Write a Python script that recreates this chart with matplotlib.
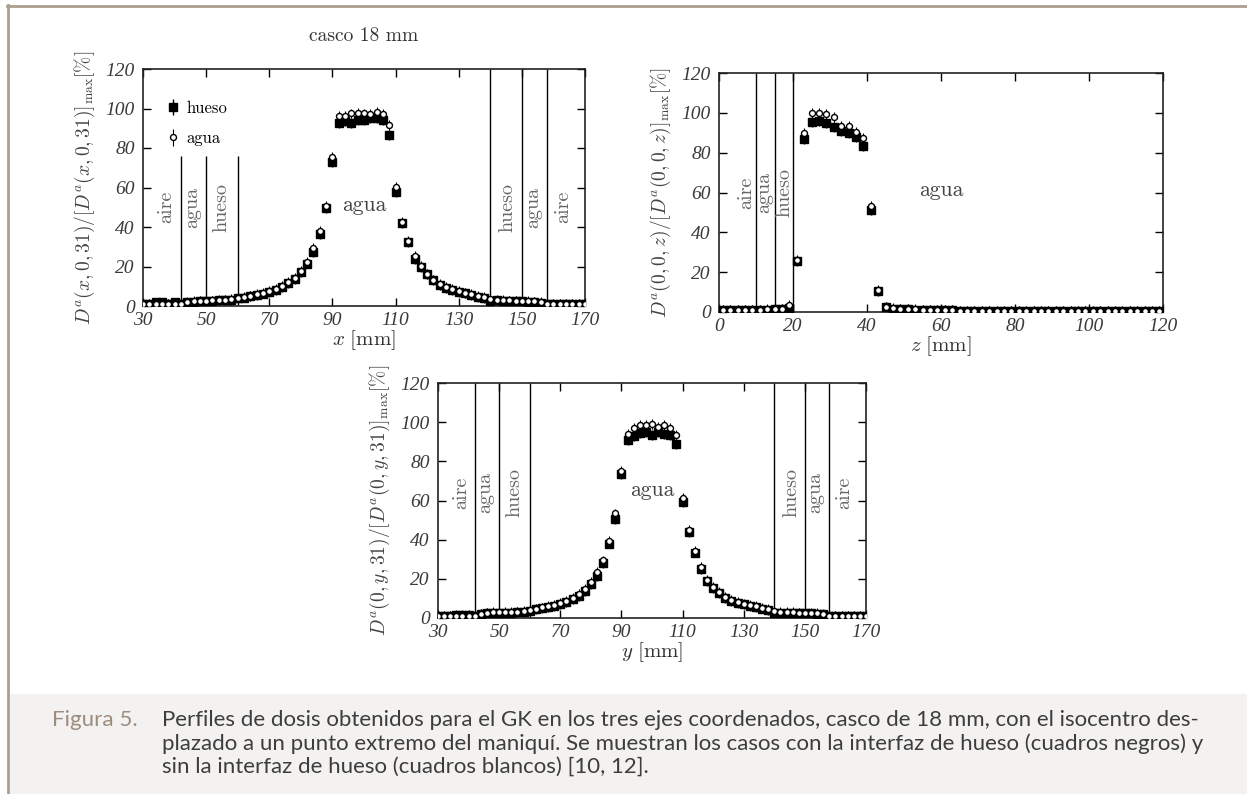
import numpy as np
import matplotlib
matplotlib.use('Agg')
import matplotlib.pyplot as plt
from matplotlib.patches import Rectangle
from matplotlib.lines import Line2D

plt.rcParams['mathtext.fontset'] = 'cm'
plt.rcParams['axes.unicode_minus'] = False

# ---- datos ----
pos_xy = np.arange(30, 171, 2)          # x, y [mm]
pos_z = np.arange(1, 120, 2)            # z [mm]

x_hueso = [1.0, 1.2, 1.8, 1.8, 1.2, 1.8, 1.0, 1.8, 2.2, 2.4,
           2.4, 2.6, 2.8, 3.0, 3.2, 3.8, 4.3, 5.0, 5.6, 6.3,
           7.2, 8.3, 9.8, 11.5, 13.5, 17.0, 21.5, 27.5, 36.3, 49.5,
           72.8, 92.5, 93.5, 92.5, 94.0, 94.0, 95.0, 95.0, 94.0, 86.8,
           57.8, 42.0, 32.5, 24.0, 19.8, 16.0, 13.0, 10.8, 9.2, 8.2,
           7.2, 6.4, 5.7, 4.6, 3.8, 2.6, 2.8, 2.6, 2.5, 2.4,
           2.3, 2.2, 2.0, 1.6, 1.0, 0.9, 0.9, 0.9, 0.8, 0.8, 1.2]
x_agua = [1.0, 1.0, 1.2, 1.2, 1.0, 1.0, 1.2, 2.0, 2.5, 2.7,
          2.6, 2.8, 3.0, 3.2, 3.5, 4.0, 4.6, 5.2, 5.9, 6.6,
          7.6, 8.7, 10.2, 12.0, 14.2, 17.8, 22.2, 29.2, 38.1, 50.8,
          75.5, 96.0, 96.2, 97.5, 97.6, 97.5, 97.3, 98.2, 97.0, 91.8,
          60.4, 42.6, 33.0, 25.2, 20.2, 16.4, 13.4, 11.2, 9.6, 8.5,
          7.5, 6.7, 6.0, 5.2, 4.6, 3.6, 3.2, 3.0, 2.8, 2.7,
          2.6, 2.5, 2.3, 1.9, 0.9, 0.8, 0.8, 0.8, 0.8, 0.8, 0.8]

y_hueso = [1.0, 1.0, 1.0, 1.6, 1.6, 1.4, 1.0, 2.0, 2.4, 2.6,
           2.6, 2.6, 2.8, 3.0, 3.2, 3.8, 4.4, 5.0, 5.6, 6.3,
           7.2, 8.2, 9.6, 11.4, 13.8, 17.4, 21.4, 28.0, 38.0, 50.6,
           73.5, 90.8, 93.0, 94.5, 95.0, 93.5, 95.0, 94.0, 93.5, 89.0,
           59.0, 43.8, 33.4, 25.1, 18.8, 15.2, 12.6, 10.3, 8.8, 7.8,
           6.9, 6.2, 5.6, 4.8, 4.0, 2.5, 2.6, 2.6, 2.5, 2.4,
           2.3, 2.3, 2.1, 1.8, 1.0, 1.0, 1.0, 1.0, 1.0, 1.0, 1.0]
y_agua = [1.0, 1.0, 1.0, 1.0, 1.0, 1.0, 1.2, 2.2, 2.8, 3.0,
          3.0, 2.9, 3.1, 3.3, 3.6, 4.2, 4.8, 5.4, 6.0, 6.8,
          7.7, 8.8, 10.2, 12.2, 14.8, 18.2, 23.3, 29.4, 39.2, 53.4,
          75.0, 94.2, 97.0, 98.5, 98.6, 99.0, 97.6, 98.6, 97.0, 93.4,
          61.1, 44.8, 34.4, 25.9, 19.5, 15.8, 13.2, 10.9, 9.3, 8.3,
          7.4, 6.7, 6.0, 5.3, 4.6, 3.6, 3.2, 3.0, 2.9, 2.8,
          2.7, 2.6, 2.4, 2.0, 1.0, 1.0, 1.0, 1.0, 1.0, 1.0, 1.0]

z_hueso = [1.0, 1.0, 1.0, 1.0, 1.0, 1.2, 1.2, 1.6, 1.6, 2.0,
           25.8, 86.7, 95.5, 95.8, 95.0, 93.0, 91.0, 90.0, 88.0, 83.2,
           51.2, 10.7, 2.4, 1.6, 1.4, 1.3, 1.2, 1.1, 1.0, 1.0,
           1.0, 0.9, 0.6, 0.6, 0.6, 0.6, 0.6, 0.6, 0.6, 0.6,
           0.6, 0.6, 0.6, 0.6, 0.6, 0.6, 0.6, 0.6, 0.6, 0.6,
           0.6, 0.6, 0.6, 0.6, 0.6, 0.6, 0.6, 0.6, 0.6, 0.6]
z_agua = [1.2, 1.2, 1.2, 1.2, 1.2, 1.2, 1.3, 1.4, 1.5, 3.5,
          26.0, 90.0, 100.0, 99.8, 99.5, 98.0, 93.5, 93.5, 90.5, 87.2,
          53.2, 11.0, 2.6, 1.8, 1.5, 1.4, 1.3, 1.2, 1.1, 1.0,
          1.0, 0.9, 0.6, 0.6, 0.6, 0.6, 0.6, 0.6, 0.6, 0.6,
          0.6, 0.6, 0.6, 0.6, 0.6, 0.6, 0.6, 0.6, 0.6, 0.6,
          0.6, 0.6, 0.6, 0.6, 0.6, 0.6, 0.6, 0.6, 0.6, 0.6]

err = 2.5

# interfaces de los materiales
bounds_xy = [42, 50, 60, 140, 150, 158]
tops_x = [76, 76, 76, 120, 120, 120]
tops_y = [120, 120, 120, 120, 120, 120]
bounds_z = [10, 15, 20]
tops_z = [120, 120, 120]

names_xy = ['aire', 'agua', 'hueso', 'hueso', 'agua', 'aire']
names_z = ['aire', 'agua', 'hueso']
lab_xy = [37.5, 45.5, 55, 145.5, 153.5, 163]
lab_z = [7.5, 12.3, 17.8]

caption = ["Perfiles de dosis obtenidos para el GK en los tres ejes coordenados, casco de 18 mm, con el isocentro des-",
           "plazado a un punto extremo del maniquí. Se muestran los casos con la interfaz de hueso (cuadros negros) y",
           "sin la interfaz de hueso (cuadros blancos) [10, 12]."]

W, H = 1247, 794
fig = plt.figure(figsize=(W / 100, H / 100), dpi=100)


def setup(ax, xlim, xticks, xlabel, ylabel):
    ax.set_xlim(*xlim)
    ax.set_ylim(0, 120)
    ax.set_xticks(xticks)
    ax.set_yticks(np.arange(0, 121, 20))
    ax.tick_params(direction='in', top=True, right=True, length=6, width=1,
                   labelsize=14, labelcolor='#3a3a3a')
    ax.tick_params(axis='x', pad=4)
    ax.tick_params(axis='y', pad=6)
    for lab in ax.get_xticklabels() + ax.get_yticklabels():
        lab.set_fontfamily('Liberation Serif')
        lab.set_fontstyle('italic')
    for s in ax.spines.values():
        s.set_linewidth(1.2)
        s.set_color('#222')
    ax.set_xlabel(xlabel, fontsize=15, color='#333', labelpad=0)
    ax.set_ylabel(ylabel, fontsize=14, color='#444', labelpad=6)


def profile(ax, pos, hueso, agua):
    eh = ax.errorbar(pos, hueso, yerr=err, fmt='s', ms=5.3, color='black',
                     elinewidth=1, capsize=0, zorder=3, label='hueso')
    ea = ax.errorbar(pos, agua, yerr=err, fmt='o', ms=4.3, mfc='white', mec='black',
                     mew=1.0, ecolor='black', elinewidth=0.8, capsize=0, zorder=4,
                     label='agua')
    return eh, ea


def regions(ax, bounds, tops, names, labx, laby):
    ax.vlines(bounds, 0, tops, colors='black', lw=1, zorder=2)
    for n, xx in zip(names, labx):
        ax.text(xx, laby, n, rotation=90, ha='center', va='center',
                family='cmr10', fontsize=14.5, color='#666')


# ---- perfil en x ----
ax1 = fig.add_axes([143 / W, 1 - 306 / H, 442 / W, 237 / H])
regions(ax1, bounds_xy, tops_x, names_xy, lab_xy, 50)
eh, ea = profile(ax1, pos_xy, x_hueso, x_agua)
ax1.text(100, 51, 'agua', ha='center', va='center', family='cmr10', fontsize=15.5, color='#444')
setup(ax1, (30, 170), np.arange(30, 171, 20), r'$x\ [\mathrm{mm}]$',
      r'$D^a(x,0,31)/[D^a(x,0,31)]_{\max}[\%]$')
ax1.set_title('casco 18 mm', family='cmr10', fontsize=14, color='#333', pad=20)
ax1.legend(handles=[eh, ea], loc='upper left', bbox_to_anchor=(0.02, 0.93),
           frameon=False, handlelength=0.7, handletextpad=0.5, labelspacing=0.9,
           prop={'family': 'cmr10', 'size': 12})

# ---- perfil en z ----
ax2 = fig.add_axes([719 / W, 1 - 312 / H, 444 / W, 239 / H])
regions(ax2, bounds_z, tops_z, names_z, lab_z, 60)
profile(ax2, pos_z, z_hueso, z_agua)
ax2.text(60, 61, 'agua', ha='center', va='center', family='cmr10', fontsize=15.5, color='#444')
setup(ax2, (0, 120), np.arange(0, 121, 20), r'$z\ [\mathrm{mm}]$',
      r'$D^a(0,0,z)/[D^a(0,0,z)]_{\max}[\%]$')

# ---- perfil en y ----
ax3 = fig.add_axes([438 / W, 1 - 618 / H, 428 / W, 235 / H])
regions(ax3, bounds_xy, tops_y, names_xy, lab_xy, 64)
profile(ax3, pos_xy, y_hueso, y_agua)
ax3.text(100, 65, 'agua', ha='center', va='center', family='cmr10', fontsize=15.5, color='#444')
setup(ax3, (30, 170), np.arange(30, 171, 20), r'$y\ [\mathrm{mm}]$',
      r'$D^a(0,y,31)/[D^a(0,y,31)]_{\max}[\%]$')

# ---- marco y pie de figura ----
fig.patches.append(Rectangle((9 / W, 0), 1, 100 / H, transform=fig.transFigure,
                             facecolor='#f3f2f0', edgecolor='none', zorder=0))
fig.lines.append(Line2D([7 / W, 1], [1 - 5.5 / H, 1 - 5.5 / H], transform=fig.transFigure,
                        color='#ad9e8f', lw=2))
fig.lines.append(Line2D([8 / W, 8 / W], [1 - 5 / H, 0], transform=fig.transFigure,
                        color='#ad9e8f', lw=2))

fig_lab = fig.text(52 / W, 1 - 726 / H, 'Figura 5.', family='Lato',
                   fontsize=14, color='#9c8d7f', va='baseline')
cap = []
for i, line in enumerate(caption):
    cap.append(fig.text(162 / W, 1 - (726 + 23.5 * i) / H, line, family='Lato',
                        fontsize=14, color='#3d3d3d', va='baseline'))

# ajustar anchos del pie a la referencia
fig.canvas.draw()
r = fig.canvas.get_renderer()
w = cap[0].get_window_extent(r).width
for t in cap:
    t.set_fontsize(t.get_fontsize() * 1036 / w)
w = fig_lab.get_window_extent(r).width
fig_lab.set_fontsize(fig_lab.get_fontsize() * 86 / w)

fig.savefig('out.png', dpi=100)
